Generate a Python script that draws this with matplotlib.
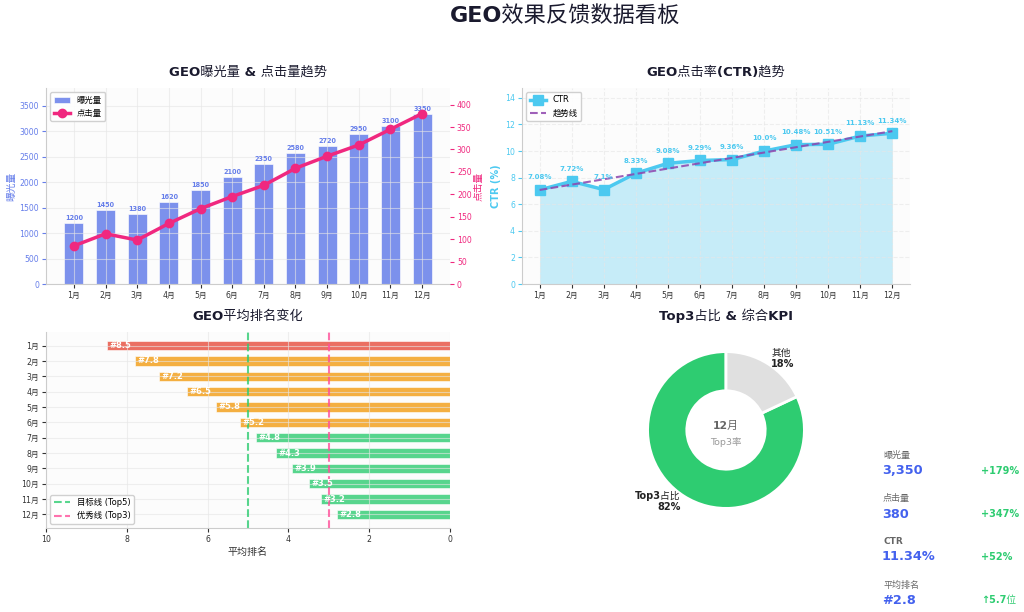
import numpy as np
import matplotlib
matplotlib.use("Agg")
import matplotlib.pyplot as plt
import matplotlib.font_manager as fm

# 中文は細字のフォールバックを使う（参照画像に合わせる）
cjk_family = 'Noto Sans CJK SC'
try:
    cjk_path = fm.findfont(fm.FontProperties(family='Noto Sans CJK SC', weight='normal'),
                           fallback_to_default=False)
    fm.fontManager.ttflist.append(fm.FontEntry(fname=cjk_path, name='CJK Regular Only',
                                               style='normal', variant='normal', weight=400,
                                               stretch='normal', size='scalable'))
    cjk_family = 'CJK Regular Only'
except Exception:
    pass
plt.rcParams['font.family'] = ['DejaVu Sans', cjk_family]
plt.rcParams['axes.unicode_minus'] = False

# データ
months = [f"{i}月" for i in range(1, 13)]
impressions = [1200, 1450, 1380, 1620, 1850, 2100, 2350, 2580, 2720, 2950, 3100, 3350]
clicks = [85, 112, 98, 135, 168, 195, 220, 258, 285, 310, 345, 380]
avg_rank = [8.5, 7.8, 7.2, 6.5, 5.8, 5.2, 4.8, 4.3, 3.9, 3.5, 3.2, 2.8]
top3_share = [82, 18]
top3_labels = ["Top3占比\n82%", "其他\n18%"]
kpi_names = ["曝光量", "点击量", "CTR", "平均排名"]
kpi_values = ["3,350", "380", "11.34%", "#2.8"]
kpi_changes = ["+179%", "+347%", "+52%", "↑5.7位"]

ctr = [round(c / e * 100, 2) for c, e in zip(clicks, impressions)]

c_blue = '#667eea'
c_pink = '#f0287f'
c_cyan = '#4cc9f0'
c_green = '#2ecc71'
c_orange = '#f39c12'
c_red = '#e74c3c'
c_title = '#1a1a2e'
tick_fs = 5.6
title_fs = 9.5

fig = plt.figure(figsize=(10.24, 6.12), dpi=100)
fig.text(565 / 1024, 1 - 16 / 612, "GEO效果反馈数据看板", ha='center', va='center',
         fontsize=16, fontweight='bold', color=c_title)

def style(ax):
    ax.set_facecolor('#fcfcfc')
    for s in ['top', 'right']:
        ax.spines[s].set_visible(False)
    for s in ['left', 'bottom']:
        ax.spines[s].set_color('#cccccc')
    ax.grid(True, color='#e6e6e6', alpha=0.6, linewidth=0.8)
    ax.tick_params(labelsize=tick_fs, colors='#333333', length=3, pad=2)

x = np.arange(len(months))

# 曝光量 & 点击量
ax1 = fig.add_axes([46 / 1024, 1 - 284 / 612, 404 / 1024, 196 / 612])
style(ax1)
bars = ax1.bar(x, impressions, width=0.6, color=c_blue, alpha=0.85, edgecolor='white',
               linewidth=0.5, label='曝光量')
for xi, v in zip(x, impressions):
    ax1.text(xi, v + 40, str(v), ha='center', va='bottom', fontsize=4.7, fontweight='bold', color=c_blue)
ax1.set_ylim(0, max(impressions) * 1.15)
ax1.set_xticks(x)
ax1.set_xticklabels(months)
ax1.tick_params(axis='y', colors=c_blue)
ax1.tick_params(axis='x', colors='#333333')
ax1.set_ylabel('曝光量', color=c_blue, fontsize=7, labelpad=2)
ax1.set_title('GEO曝光量 & 点击量趋势', fontsize=title_fs, fontweight='bold', color=c_title, pad=9)

ax1b = ax1.twinx()
for s in ['top', 'right', 'left', 'bottom']:
    ax1b.spines[s].set_visible(False)
line, = ax1b.plot(x, clicks, color=c_pink, marker='o', markersize=6, linewidth=2.5, label='点击量')
ax1b.set_ylim(0, max(clicks) * 1.15)
ax1b.tick_params(axis='y', colors=c_pink, labelsize=tick_fs, length=3, pad=2)
ax1b.set_ylabel('点击量', color=c_pink, fontsize=7, labelpad=1)
ax1.legend([bars, line], ['曝光量', '点击量'], loc='upper left', fontsize=6, framealpha=0.9)

# CTR
ax2 = fig.add_axes([522 / 1024, 1 - 284 / 612, 388 / 1024, 196 / 612])
style(ax2)
ax2.grid(True, color='#e6e6e6', alpha=0.6, linewidth=0.8, linestyle='--')
ax2.fill_between(x, ctr, 0, color=c_cyan, alpha=0.3, linewidth=0)
ax2.plot(x, ctr, color=c_cyan, marker='s', markersize=7, linewidth=2.5, label='CTR')
z = np.polyfit(x, ctr, 1)
ax2.plot(x, np.polyval(z, x), '--', color='#8e44ad', linewidth=1.5, alpha=0.85, label='趋势线')
for xi, v in zip(x, ctr):
    ax2.annotate(f"{v}%", (xi, v), xytext=(0, 7), textcoords='offset points', ha='center',
                 va='bottom', fontsize=5, fontweight='bold', color=c_cyan)
ax2.set_ylim(0, max(ctr) * 1.3)
ax2.set_xticks(x)
ax2.set_xticklabels(months)
ax2.tick_params(axis='y', colors=c_cyan)
ax2.tick_params(axis='x', colors='#333333')
ax2.set_ylabel('CTR (%)', color=c_cyan, fontsize=7, fontweight='bold', labelpad=3)
ax2.set_title('GEO点击率(CTR)趋势', fontsize=title_fs, fontweight='bold', color=c_title, pad=9)
ax2.legend(loc='upper left', fontsize=6, framealpha=0.9)

# 平均排名
ax3 = fig.add_axes([46 / 1024, 1 - 528 / 612, 404 / 1024, 196 / 612])
style(ax3)
colors = [c_red if r > 8 else (c_orange if r > 5 else c_green) for r in avg_rank]
ax3.barh(x, avg_rank, height=0.62, color=colors, alpha=0.8, edgecolor='white', linewidth=0.5)
for xi, r in zip(x, avg_rank):
    ax3.text(r - 0.06, xi, f"#{r}", ha='left', va='center', fontsize=6, fontweight='bold', color='white')
ax3.axvline(5, color=c_green, linestyle='--', linewidth=1.5, alpha=0.8, label='目标线 (Top5)')
ax3.axvline(3, color='#ff4f9a', linestyle='--', linewidth=1.5, alpha=0.8, label='优秀线 (Top3)')
ax3.set_yticks(x)
ax3.set_yticklabels(months)
ax3.invert_yaxis()
ax3.set_xlim(10, 0)
ax3.set_xlabel('平均排名', fontsize=7.2, color='#333333', labelpad=2)
ax3.set_title('GEO平均排名变化', fontsize=title_fs, fontweight='bold', color=c_title, pad=9)
ax3.legend(loc='lower left', fontsize=6, framealpha=0.9)

# Top3占比
ax4 = fig.add_axes([526 / 1024, 1 - 528 / 612, 400 / 1024, 196 / 612])
ax4.pie(top3_share, labels=top3_labels, colors=[c_green, '#e0e0e0'], startangle=90,
        labeldistance=1.08, wedgeprops=dict(width=0.5, edgecolor='white', linewidth=2),
        textprops=dict(fontsize=7, fontweight='bold', color='#222222'))
ax4.text(0, 0.05, '12月', ha='center', va='center', fontsize=7.8, fontweight='bold', color='#666666')
ax4.text(0, -0.15, 'Top3率', ha='center', va='center', fontsize=6.8, color='#999999')
ax4.set_title('Top3占比 & 综合KPI', fontsize=title_fs, fontweight='bold', color=c_title, pad=9)

# KPI
label_y = [455, 499, 542, 585]
value_y = [471, 514, 557, 600]
for name, val, chg, ly, vy in zip(kpi_names, kpi_values, kpi_changes, label_y, value_y):
    fig.text(883 / 1024, 1 - ly / 612, name, ha='left', va='center', fontsize=6.5, color='#666666',
             fontweight='bold' if name == 'CTR' else 'normal')
    fig.text(882 / 1024, 1 - vy / 612, val, ha='left', va='center', fontsize=9.3,
             fontweight='bold', color='#4361ee')
    fig.text(981 / 1024, 1 - vy / 612, chg, ha='left', va='center', fontsize=7,
             fontweight='bold', color=c_green)

fig.savefig('out.png', dpi=100)
